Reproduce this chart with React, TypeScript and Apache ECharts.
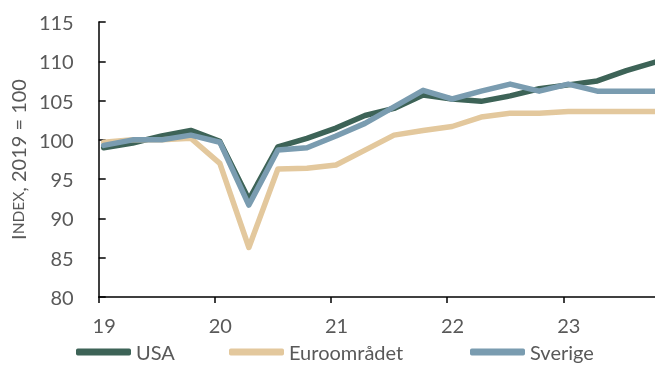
import React, { useEffect, useRef } from "react";
import * as echarts from "echarts";

const quarters = [
  "2019Q1", "2019Q2", "2019Q3", "2019Q4",
  "2020Q1", "2020Q2", "2020Q3", "2020Q4",
  "2021Q1", "2021Q2", "2021Q3", "2021Q4",
  "2022Q1", "2022Q2", "2022Q3", "2022Q4",
  "2023Q1", "2023Q2", "2023Q3", "2023Q4",
];
const usa = [
  99.0, 99.6, 100.5, 101.2,
  99.8, 92.4, 99.1, 100.2,
  101.5, 103.1, 104.0, 105.7,
  105.2, 104.9, 105.6, 106.5,
  107.0, 107.5, 108.8, 109.9,
];
const euro = [
  99.7, 100.0, 100.0, 100.2,
  97.0, 86.3, 96.3, 96.4,
  96.8, 98.7, 100.6, 101.2,
  101.7, 102.9, 103.4, 103.4,
  103.6, 103.6, 103.6, 103.6,
];
const sverige = [
  99.3, 100.0, 100.0, 100.6,
  99.7, 91.7, 98.7, 99.0,
  100.5, 102.1, 104.2, 106.3,
  105.2, 106.2, 107.1, 106.2,
  107.1, 106.2, 106.2, 106.2,
];
const seriesNames = ["USA", "Euroområdet", "Sverige"];
const yearTicks = [2019, 2020, 2021, 2022, 2023];

const toX = (q: string) => {
  const y = parseInt(q.slice(0, 4), 10);
  const n = parseInt(q.slice(5), 10);
  return y + (n - 1) * 0.25 + 0.043;
};

const TEXT = "#595959";
const FONT = "Lato";
const legendLefts = [71, 224, 465];

export default function App() {
  const ref = useRef<HTMLDivElement>(null);
  useEffect(() => {
    if (!ref.current) return;
    const chart = echarts.init(ref.current, undefined, { renderer: "svg" });
    const mk = (name: string, vals: number[], color: string) => ({
      name,
      type: "line",
      data: quarters.map((q, i) => [toX(q), vals[i]]),
      showSymbol: false,
      symbol: "none",
      lineStyle: { color, width: 5.5, cap: "round", join: "round" },
      itemStyle: { color },
    });
    chart.setOption({
      animation: false,
      grid: { left: 98, right: 0, top: 22, bottom: 68 },
      legend: seriesNames.map((n, i) => ({
        left: legendLefts[i],
        top: 337,
        itemWidth: 55,
        itemHeight: 7,
        icon: "roundRect",
        selectedMode: false,
        textStyle: { color: TEXT, fontFamily: FONT, fontSize: 20 },
        data: [n],
      })),
      xAxis: {
        type: "value",
        min: 2019,
        max: 2023.79,
        interval: 1,
        axisLine: { lineStyle: { color: "#000", width: 1.5 } },
        axisTick: { show: true, length: 6, lineStyle: { color: "#000", width: 1.5 } },
        splitLine: { show: false },
        axisLabel: {
          color: TEXT,
          fontFamily: FONT,
          fontSize: 20,
          margin: 18,
          padding: [0, 0, 0, 11],
          showMaxLabel: false,
          formatter: (v: number) =>
            yearTicks.includes(Math.round(v)) ? String(Math.round(v)).slice(2) : "",
        },
      },
      yAxis: {
        type: "value",
        min: 80,
        max: 115,
        interval: 5,
        axisLine: { show: true, lineStyle: { color: "#000", width: 1.5 } },
        axisTick: { show: true, inside: true, length: 7, lineStyle: { color: "#000", width: 1.5 } },
        splitLine: { show: false },
        axisLabel: { color: TEXT, fontFamily: FONT, fontSize: 20, margin: 25 },
        name: "{b|I}{s|NDEX}{b|, 2019 = 100}",
        nameLocation: "middle",
        nameGap: 67,
        nameTextStyle: {
          color: TEXT,
          fontFamily: FONT,
          rich: {
            b: { color: TEXT, fontFamily: FONT, fontSize: 20 },
            s: { color: TEXT, fontFamily: FONT, fontSize: 15.5 },
          },
        },
      },
      series: [
        mk("USA", usa, "#3d6357"),
        mk("Euroområdet", euro, "#e3c89d"),
        mk("Sverige", sverige, "#7a9cb0"),
      ],
    });
    return () => chart.dispose();
  }, []);
  return (
    <div
      ref={ref}
      style={{ position: "fixed", left: 0, top: 0, width: 655, height: 365 }}
    />
  );
}
